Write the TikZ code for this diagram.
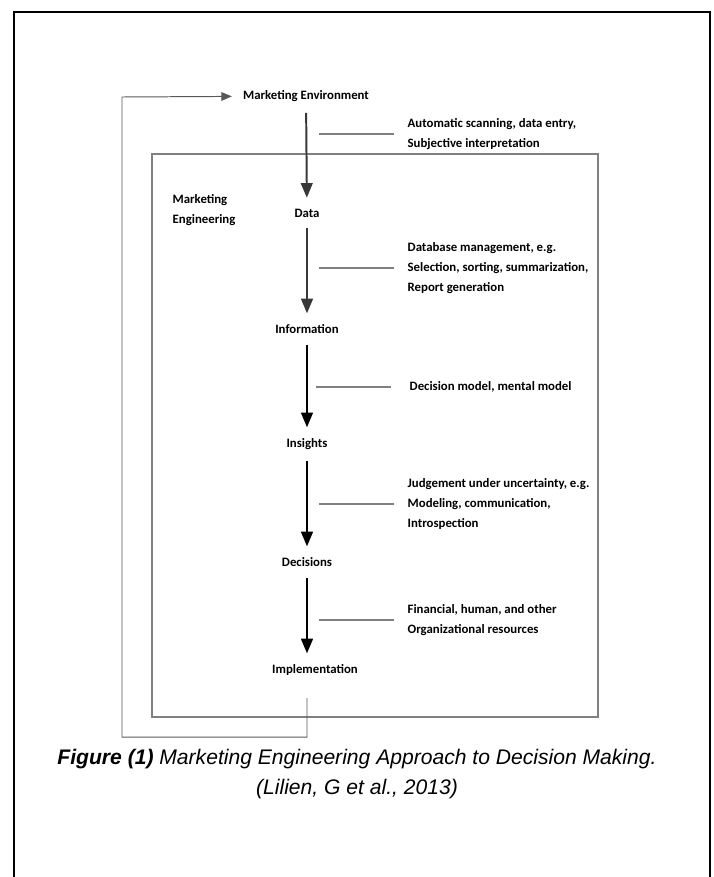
\documentclass[tikz,border=0pt]{standalone}
\usepackage{fontspec}
\setmainfont{Carlito}
\newfontfamily\capfont{Liberation Sans}
\usetikzlibrary{
  positioning,
  arrows
}

\begin{document}
\begin{tikzpicture}[x=0.025cm, y=-0.025cm,
    font=\bfseries\fontsize{9.1}{14}\selectfont,
    stage/.style = {inner sep=1pt, outer sep=7pt},
    note/.style = {inner sep=1pt, anchor=west, align=left},
    flow/.style = {-triangle 45, line width=1.4pt},
    tick/.style = {draw=black!50, line width=1.4pt},
    back/.style = {-triangle 45, draw=black!65, line width=0.7pt}]
    \useasboundingbox (0,0) rectangle (714,877);

    % frames
    \draw[line width=1.6pt] (14,877) -- (14,12) -- (710,12) -- (710,877);
    \draw[black!50, line width=0.9pt] (152,154) rectangle (598,717);

    % main chain
    \node[stage] (env)  at (306,96)  {Marketing Environment};
    \node[stage] (data) at (307,213) {Data};
    \node[stage] (info) at (307,329) {Information};
    \node[stage] (ins)  at (307,444) {Insights};
    \node[stage] (dec)  at (307,562) {Decisions};
    \node[stage] (impl) at (315,670) {Implementation};

    \node[note] (me) at (171,210) {Marketing\\Engineering};

    \draw[flow, black!78] (env) -- (data);
    \draw[flow, black!78] (data) -- (info);
    \draw[flow] (info) -- (ins);
    \draw[flow] (ins) -- (dec);
    \draw[flow] (dec) -- (dec |- impl.north);

    % side remarks
    \node[note] (n1) at (406,134) {Automatic scanning, data entry,\\Subjective interpretation};
    \node[note] (n2) at (406,268) {Database management, e.g.\\Selection, sorting, summarization,\\Report generation};
    \node[note] (n3) at (408,387) {Decision model, mental model};
    \node[note] (n4) at (406,504) {Judgement under uncertainty, e.g.\\Modeling, communication,\\Introspection};
    \node[note] (n5) at (406,620) {Financial, human, and other\\Organizational resources};

    \draw[tick] (n1.west) ++(-12,0) -- ++(-75,0);
    \draw[tick] (n2.west) ++(-12,0) -- ++(-75,0);
    \draw[tick] (n3.west) ++(-17,0) -- ++(-75,0);
    \draw[tick] (n4.west) ++(-12,0) -- ++(-75,0);
    \draw[tick] (n5.west) ++(-12,0) -- ++(-75,0);

    % feedback
    \draw[back] (dec |- impl) ++(0,28) -- ++(0,39) -| (122,97) -- (env);

    \node[font=\capfont\itshape\fontsize{15}{21.3}\selectfont, align=center] (cap) at (357,774)
      {\textbf{Figure (1)} Marketing Engineering Approach to Decision Making.\\(Lilien, G et al., 2013)};
\end{tikzpicture}
\end{document}
